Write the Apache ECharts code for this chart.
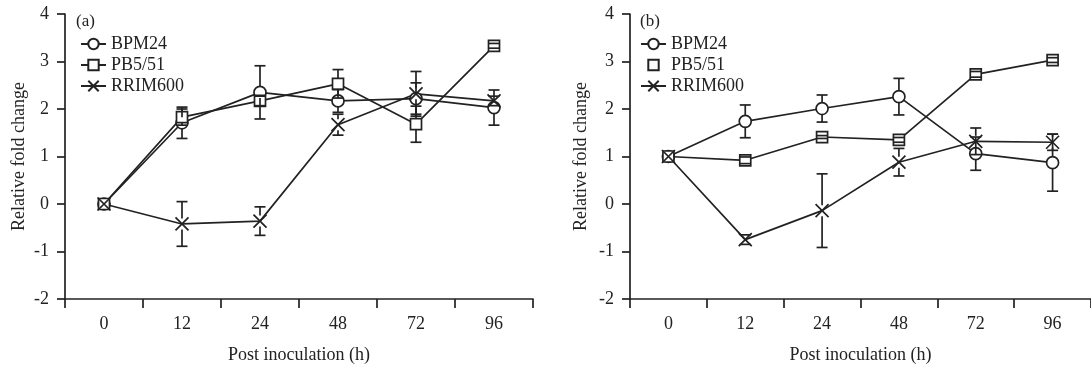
<!DOCTYPE html>
<html>
<head>
<meta charset="utf-8">
<script src="https://cdn.jsdelivr.net/npm/echarts@6/dist/echarts.min.js"></script>
<style>
html,body{margin:0;padding:0;background:#fff;}
#c{width:1091px;height:369px;}
</style>
</head>
<body>
<div id="c"></div>
<script>
// ---- data ----
const categories = ['0', '12', '24', '48', '72', '96'];
const seriesNames = ['BPM24', 'PB5/51', 'RRIM600'];
const yTicks = [-2, -1, 0, 1, 2, 3, 4];

// panel (a)
const a_BPM24 = [0, 1.71, 2.35, 2.17, 2.22, 2.03];
const a_BPM24_err = [0, 0.33, 0.56, 0.24, 0.33, 0.37];
const a_PB551 = [0, 1.83, 2.17, 2.53, 1.68, 3.33];
const a_PB551_err = [0, 0.17, 0.10, 0.30, 0.38, 0.05];
const a_RRIM600 = [0, -0.42, -0.36, 1.67, 2.32, 2.17];
const a_RRIM600_err = [0, 0.47, 0.30, 0.22, 0.47, 0.10];

// panel (b)
const b_BPM24 = [1, 1.74, 2.01, 2.26, 1.06, 0.87];
const b_BPM24_err = [0, 0.345, 0.285, 0.385, 0.35, 0.60];
const b_PB551 = [1, 0.92, 1.41, 1.35, 2.73, 3.03];
const b_PB551_err = [0, 0.07, 0.03, 0.05, 0.06, 0.05];
const b_RRIM600 = [1, -0.75, -0.14, 0.88, 1.32, 1.30];
const b_RRIM600_err = [0, 0.10, 0.775, 0.29, 0.28, 0.17];

// ---- styling ----
const INK = '#222';
const FONT = '"Liberation Serif","DejaVu Serif",serif';
const xSymbol = 'path://M0,0L10,10M10,0L0,10';
const symbols = ['circle', 'rect', xSymbol];
const symbolSizes = [12, 11, 13];

const chart = echarts.init(document.getElementById('c'), null, {renderer: 'canvas'});

function axisPair(idx, nameGapY) {
  const x = {
    type: 'category', gridIndex: idx, data: categories, boundaryGap: true,
    axisLine: {onZero: false, lineStyle: {color: INK, width: 1.7}},
    axisTick: {show: true, inside: false, length: 9, interval: 0, lineStyle: {color: INK, width: 1.7}},
    axisLabel: {color: INK, fontFamily: FONT, fontSize: 18, margin: 16},
    name: 'Post inoculation (h)', nameLocation: 'middle', nameGap: 47,
    nameTextStyle: {color: INK, fontFamily: FONT, fontSize: 18},
    splitLine: {show: false}
  };
  const y = {
    type: 'value', gridIndex: idx, min: yTicks[0], max: yTicks[yTicks.length - 1], interval: 1,
    axisLine: {show: true, onZero: false, lineStyle: {color: INK, width: 1.7}},
    axisTick: {show: true, inside: false, length: 8, lineStyle: {color: INK, width: 1.7}},
    axisLabel: {color: INK, fontFamily: FONT, fontSize: 18, margin: 16},
    name: 'Relative fold change', nameLocation: 'middle', nameGap: nameGapY, nameRotate: 90,
    nameTextStyle: {color: INK, fontFamily: FONT, fontSize: 18},
    splitLine: {show: false}
  };
  return [x, y];
}

function lineSeries(idx, name, k, values) {
  return {
    type: 'line', name: name, xAxisIndex: idx, yAxisIndex: idx, data: values,
    symbol: symbols[k], symbolSize: symbolSizes[k], showAllSymbol: true,
    lineStyle: {color: INK, width: 1.7},
    itemStyle: {color: '#fff', borderColor: INK, borderWidth: 1.7},
    emphasis: {disabled: true}, animation: false, z: 3
  };
}

function errSeries(idx, values, errs) {
  const d = values.map((v, i) => [i, v, errs[i]]);
  return {
    type: 'custom', xAxisIndex: idx, yAxisIndex: idx, data: d, z: 4, animation: false,
    silent: true,
    renderItem: function (params, api) {
      const i = api.value(0), v = api.value(1), e = api.value(2);
      if (!e) return null;
      const c = api.coord([i, v]);
      const hi = api.coord([i, v + e]);
      const lo = api.coord([i, v - e]);
      const r = 5.5, cw = 5.5;
      const st = {stroke: INK, lineWidth: 1.7, fill: null};
      const children = [];
      if (c[1] - hi[1] > r) children.push({type: 'line', shape: {x1: c[0], y1: c[1] - r, x2: hi[0], y2: hi[1]}, style: st});
      if (lo[1] - c[1] > r) children.push({type: 'line', shape: {x1: c[0], y1: c[1] + r, x2: lo[0], y2: lo[1]}, style: st});
      children.push({type: 'line', shape: {x1: hi[0] - cw, y1: hi[1], x2: hi[0] + cw, y2: hi[1]}, style: st});
      children.push({type: 'line', shape: {x1: lo[0] - cw, y1: lo[1], x2: lo[0] + cw, y2: lo[1]}, style: st});
      return {type: 'group', children: children};
    }
  };
}

const ax0 = axisPair(0, 37);
const ax1 = axisPair(1, 40);

const legendBase = {
  orient: 'vertical', itemWidth: 25, itemHeight: 13, itemGap: 3,
  textStyle: {color: INK, fontFamily: FONT, fontSize: 18, lineHeight: 18},
  selectedMode: false, padding: 0
};

const option = {
  backgroundColor: '#fff',
  animation: false,
  title: [
    {text: '(a)', left: 76, top: 13, padding: 0, textStyle: {color: INK, fontFamily: FONT, fontSize: 17, fontWeight: 'normal'}},
    {text: '(b)', left: 640, top: 13, padding: 0, textStyle: {color: INK, fontFamily: FONT, fontSize: 17, fontWeight: 'normal'}}
  ],
  legend: [
    Object.assign({}, legendBase, {left: 80, top: 35, data: seriesNames.map(n => ({name: n}))}),
    Object.assign({}, legendBase, {left: 640, top: 35, data: [
      {name: 'BPM24'},
      {name: 'PB5/51', lineStyle: {width: 0, opacity: 0}},
      {name: 'RRIM600'}
    ]})
  ],
  grid: [
    {left: 65, top: 14, width: 468, height: 289.5},
    {left: 630, top: 14, width: 468, height: 289.5}
  ],
  xAxis: [ax0[0], ax1[0]],
  yAxis: [ax0[1], ax1[1]],
  series: [
    lineSeries(0, 'BPM24', 0, a_BPM24),
    lineSeries(0, 'PB5/51', 1, a_PB551),
    lineSeries(0, 'RRIM600', 2, a_RRIM600),
    errSeries(0, a_BPM24, a_BPM24_err),
    errSeries(0, a_PB551, a_PB551_err),
    errSeries(0, a_RRIM600, a_RRIM600_err),
    lineSeries(1, 'BPM24', 0, b_BPM24),
    lineSeries(1, 'PB5/51', 1, b_PB551),
    lineSeries(1, 'RRIM600', 2, b_RRIM600),
    errSeries(1, b_BPM24, b_BPM24_err),
    errSeries(1, b_PB551, b_PB551_err),
    errSeries(1, b_RRIM600, b_RRIM600_err)
  ]
};
chart.setOption(option);
</script>
</body>
</html>
